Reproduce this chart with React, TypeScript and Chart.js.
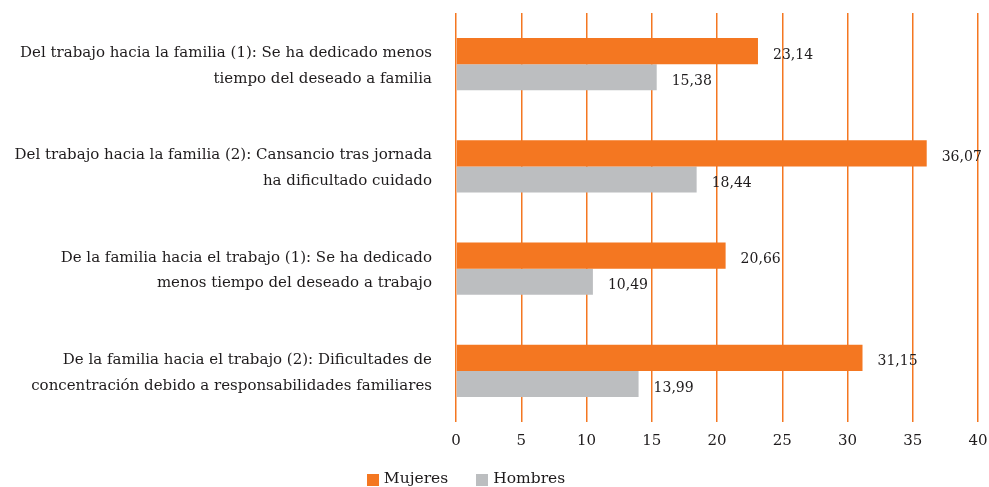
import React, { useEffect, useRef } from "react";
import { Chart, registerables } from "chart.js";

Chart.register(...registerables);

const categories: string[][] = [
  ["Del trabajo hacia la familia (1): Se ha dedicado menos", "tiempo del deseado a familia"],
  ["Del trabajo hacia la familia (2): Cansancio tras jornada", "ha dificultado cuidado"],
  ["De la familia hacia el trabajo (1): Se ha dedicado", "menos tiempo del deseado a trabajo"],
  ["De la familia hacia el trabajo (2): Dificultades de", "concentración debido a responsabilidades familiares"],
];
const mujeres = [23.14, 36.07, 20.66, 31.15];
const hombres = [15.38, 18.44, 10.49, 13.99];
const seriesNames = ["Mujeres", "Hombres"];
const xTicks = [0, 5, 10, 15, 20, 25, 30, 35, 40];

const ORANGE = "#F47721";
const GRAY = "#BCBEC0";
const FONT = "'DejaVu Serif', serif";
const TEXT = "#1E1B1C";

const fmt = (v: number) => v.toFixed(2).replace(".", ",");

const valueLabels = {
  id: "valueLabels",
  afterDatasetsDraw(chart: any) {
    const ctx = chart.ctx;
    ctx.save();
    ctx.font = `14px ${FONT}`;
    ctx.fillStyle = TEXT;
    ctx.textAlign = "left";
    ctx.textBaseline = "middle";
    chart.data.datasets.forEach((ds: any, i: number) => {
      const meta = chart.getDatasetMeta(i);
      meta.data.forEach((bar: any, j: number) => {
        ctx.fillText(fmt(ds.data[j]), bar.x + 15, bar.y + 4);
      });
    });
    ctx.restore();
  },
};

export default function App() {
  const ref = useRef<HTMLCanvasElement>(null);
  useEffect(() => {
    document.body.style.margin = "0";
    const chart = new Chart(ref.current!, {
      type: "bar",
      data: {
        labels: categories,
        datasets: [
          { label: seriesNames[0], data: mujeres, backgroundColor: ORANGE },
          { label: seriesNames[1], data: hombres, backgroundColor: GRAY },
        ],
      },
      options: {
        indexAxis: "y",
        animation: false,
        responsive: false,
        maintainAspectRatio: false,
        layout: { padding: { top: 13, bottom: 27, right: 0, left: 0 } },
        datasets: { bar: { categoryPercentage: 0.51, barPercentage: 1 } } as any,
        plugins: {
          legend: { display: false },
          tooltip: { enabled: false },
        },
        scales: {
          x: {
            min: 0,
            max: 40,
            afterBuildTicks: (s: any) => {
              s.ticks = xTicks.map((v) => ({ value: v }));
            },
            afterFit: (s: any) => {
              s.paddingLeft = 0;
              s.paddingRight = 11;
            },
            grid: { color: ORANGE, lineWidth: 1.5, drawTicks: false },
            border: { display: false },
            ticks: { padding: 10, color: TEXT, font: { family: FONT, size: 15 } },
          },
          y: {
            afterFit: (s: any) => {
              s.width = 456;
              s.paddingTop = 0;
              s.paddingBottom = 0;
            },
            grid: { display: false, drawTicks: false },
            border: { display: false },
            ticks: {
              padding: 24,
              labelOffset: 2,
              color: TEXT,
              font: { family: FONT, size: 15, lineHeight: 1.73 },
            },
          },
        },
      },
      plugins: [valueLabels],
    });
    return () => chart.destroy();
  }, []);

  const colors = [ORANGE, GRAY];
  return (
    <div style={{ position: "relative", width: 989, height: 487, overflow: "hidden", background: "#fff" }}>
      <canvas ref={ref} width={989} height={487} style={{ position: "absolute", left: 0, top: 0 }} />
      <div
        style={{
          position: "absolute",
          left: 0,
          width: 932,
          top: 469,
          display: "flex",
          justifyContent: "center",
          gap: 28,
          fontFamily: FONT,
          fontSize: 15.5,
          color: TEXT,
        }}
      >
        {seriesNames.map((n, i) => (
          <div key={n} style={{ display: "flex", alignItems: "center", gap: 5 }}>
            <span style={{ width: 12, height: 12, background: colors[i], display: "inline-block", marginTop: 3 }} />
            <span>{n}</span>
          </div>
        ))}
      </div>
    </div>
  );
}
